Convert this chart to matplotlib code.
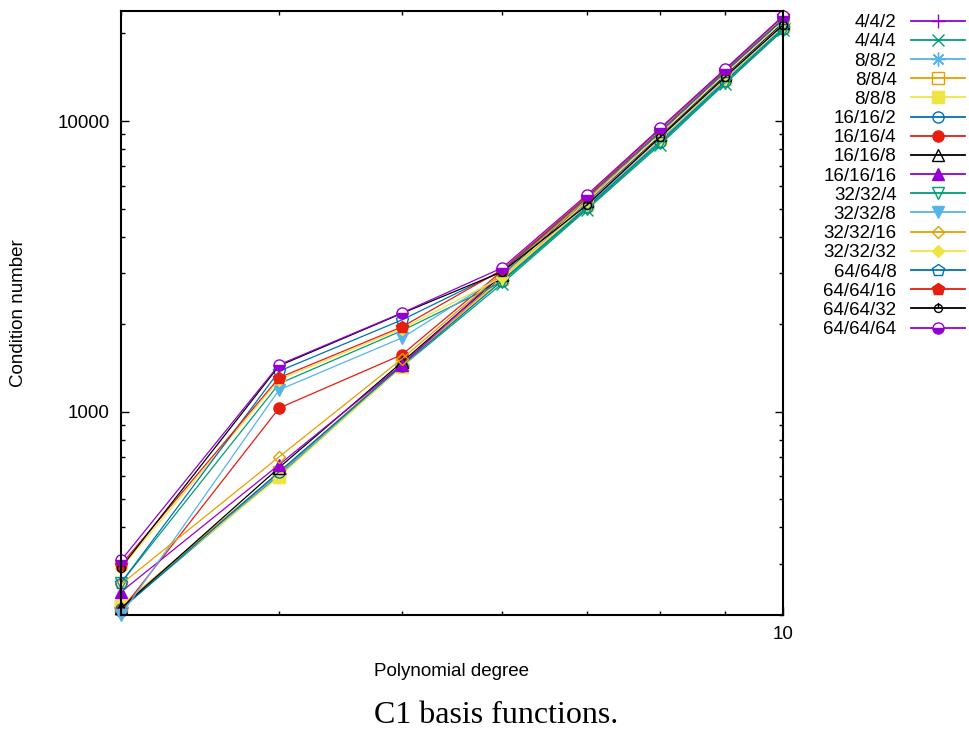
import numpy as np
import matplotlib.pyplot as plt
from matplotlib.path import Path
from matplotlib.ticker import FuncFormatter, NullFormatter, LogLocator

degree = [3, 4, 5, 6, 7, 8, 9, 10]

labels = ['4/4/2', '4/4/4', '8/8/2', '8/8/4', '8/8/8', '16/16/2', '16/16/4', '16/16/8',
          '16/16/16', '32/32/4', '32/32/8', '32/32/16', '32/32/32', '64/64/8', '64/64/16',
          '64/64/32', '64/64/64']

c_442 = [212, 615, 1450, 2900, 5250, 8900, 14300, 21700]
c_444 = [210, 605, 1430, 2760, 4960, 8300, 13450, 20500]
c_882 = [213, 612, 1440, 2850, 5100, 8600, 13900, 21000]
c_884 = [215, 620, 1460, 2880, 5180, 8750, 14100, 21300]
c_888 = [214, 598, 1430, 2870, 5150, 8700, 14000, 21200]
c_16_2 = [209, 622, 1440, 2820, 5050, 8500, 13700, 20800]
c_16_4 = [207, 1030, 1571, 3050, 5450, 9250, 14800, 22500]
c_16_8 = [211, 643, 1480, 2950, 5300, 8950, 14400, 21800]
c_16_16 = [240, 658, 1450, 3000, 5400, 9150, 14700, 22300]
c_32_4 = [258, 1250, 1900, 2800, 5000, 8400, 13550, 20600]
c_32_8 = [200, 1190, 1795, 2950, 5200, 8800, 14200, 21500]
c_32_16 = [255, 700, 1520, 3000, 5400, 9200, 14800, 22600]
c_32_32 = [290, 1290, 1930, 2900, 5300, 9000, 14500, 22000]
c_64_8 = [258, 1380, 2070, 3050, 5450, 9200, 14800, 22400]
c_64_16 = [298, 1310, 1958, 3080, 5500, 9400, 15000, 22900]
c_64_32 = [291, 1440, 2180, 3030, 5140, 8810, 14160, 21380]
c_64_64 = [308, 1452, 2188, 3125, 5570, 9460, 15100, 22960]

series = [c_442, c_444, c_882, c_884, c_888, c_16_2, c_16_4, c_16_8, c_16_16,
          c_32_4, c_32_8, c_32_16, c_32_32, c_64_8, c_64_16, c_64_32, c_64_64]

palette = ['#9400D3', '#009E73', '#56B4E9', '#E69F00', '#F0E442', '#0072B2', '#E51E10', '#000000']

# circle with a tick for 64/64/32
circ_tick = Path.make_compound_path(Path.unit_circle(),
                                    Path([[0, 0], [0, 1.4]], [Path.MOVETO, Path.LINETO]))

# (marker, filled, size)
markers = [('+', True, 10), ('x', True, 8), ((8, 2, 0), True, 10), ('s', False, 8), ('s', True, 8),
           ('o', False, 8), ('o', True, 8), ('^', False, 8), ('^', True, 8), ('v', False, 8),
           ('v', True, 8), ('D', False, 6.5), ('D', True, 6.5), ('p', False, 9), ('p', True, 9),
           (circ_tick, False, 8), ('o', 'half', 8)]

plt.rcParams['font.family'] = ['Liberation Sans', 'DejaVu Sans']

fig = plt.figure(figsize=(9.7, 7.38), dpi=100)
ax = fig.add_axes([121 / 970, 1 - 615 / 738, (783 - 121) / 970, (615 - 11) / 738])

for i, (lab, vals) in enumerate(zip(labels, series)):
    col = palette[i % 8]
    m, filled, ms = markers[i]
    kw = dict(color=col, lw=0.9, marker=m, markersize=ms, markeredgewidth=1.0,
              label=lab, clip_on=False)
    if filled == 'half':
        kw.update(fillstyle='bottom', markerfacecolor=col, markerfacecoloralt='white')
    elif filled:
        kw.update(markerfacecolor=col)
    else:
        kw.update(markerfacecolor='none')
    ax.plot(degree, vals, **kw)

ax.set_xscale('log')
ax.set_yscale('log')
ax.set_xlim(3, 10)
ax.set_ylim(200, 23900)

ax.xaxis.set_major_locator(LogLocator(base=10))
ax.xaxis.set_minor_locator(LogLocator(base=10, subs=np.arange(2, 10)))
ax.xaxis.set_major_formatter(FuncFormatter(lambda v, p: f'{v:g}'))
ax.xaxis.set_minor_formatter(NullFormatter())
ax.yaxis.set_major_formatter(FuncFormatter(lambda v, p: f'{v:g}'))
ax.yaxis.set_minor_formatter(NullFormatter())

ax.tick_params(which='both', direction='in', top=True, right=True, labelsize=13.5, width=1)
ax.tick_params(which='major', length=6, pad=8)
ax.tick_params(which='minor', length=3)
for sp in ax.spines.values():
    sp.set_linewidth(1.5)

ax.set_xlabel('Polynomial degree', fontsize=13.5, labelpad=14)
ax.set_ylabel('Condition number', fontsize=13.5, labelpad=22)

leg = fig.legend(loc='upper right', bbox_to_anchor=(965 / 970, 1 - 14 / 738),
                 frameon=False, markerfirst=False, fontsize=13.5, borderpad=0, borderaxespad=0,
                 handlelength=2.9, handletextpad=0.75, labelspacing=0.11)
for h in leg.get_lines():
    h.set_linewidth(1.3)

fig.text(0.511, 0.03, 'C1 basis functions.', ha='center', va='center',
         fontsize=23, family='Liberation Serif')

plt.savefig('out.png', dpi=100)
